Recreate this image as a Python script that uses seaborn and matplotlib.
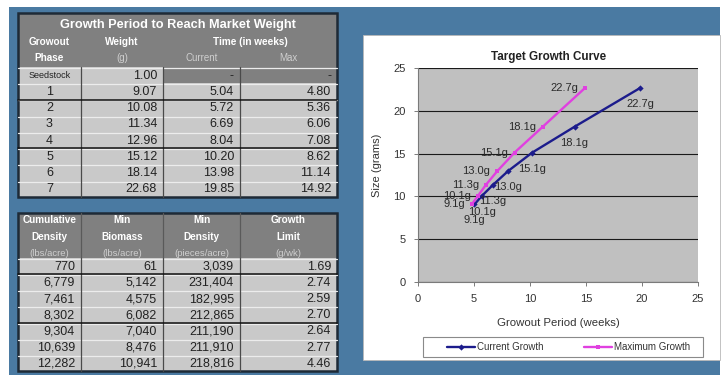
import matplotlib
matplotlib.use("Agg")
import matplotlib.pyplot as plt
from matplotlib.patches import Rectangle
import numpy as np
import pandas as pd
import seaborn as sns

# ---- data -------------------------------------------------------------
phases = ["Seedstock", "1", "2", "3", "4", "5", "6", "7"]
weight_g = [1.00, 9.07, 10.08, 11.34, 12.96, 15.12, 18.14, 22.68]
weeks_current = [None, 5.04, 5.72, 6.69, 8.04, 10.20, 13.98, 19.85]
weeks_max = [None, 4.80, 5.36, 6.06, 7.08, 8.62, 11.14, 14.92]

cum_density = [770, 6779, 7461, 8302, 9304, 10639, 12282]
min_biomass = [61, 5142, 4575, 6082, 7040, 8476, 10941]
min_density = [3039, 231404, 182995, 212865, 211190, 211910, 218816]
growth_limit = [1.69, 2.74, 2.59, 2.70, 2.64, 2.77, 4.46]

series_names = ["Current Growth", "Maximum Growth"]
series_colors = {"Current Growth": "#1c1c8c", "Maximum Growth": "#e040e0"}

# ---- figure -----------------------------------------------------------
sns.set_theme(style="white")
plt.rcParams["font.family"] = ["Liberation Sans", "DejaVu Sans"]

W, H = 723, 375
fig = plt.figure(figsize=(W / 100, H / 100), dpi=100, facecolor="white")
bg = fig.add_axes([0, 0, 1, 1])
bg.set_xlim(0, W)
bg.set_ylim(H, 0)
bg.axis("off")

BLUE = "#4a7aa2"
HEAD = "#808080"
CELL = "#c9c9c9"
DARK = "#1e2a36"
TXT = "#222222"
UNIT = "#cfcfcf"

bg.add_patch(Rectangle((9, 7), 711, H - 7, facecolor=BLUE, edgecolor="none"))

cols = [18, 81, 163, 240, 337]


def draw_rows(top, row_h, rows, dark_after, shaded=None):
    shaded = shaded or set()
    for r, row in enumerate(rows):
        y = top + r * row_h
        for c, (txt, align) in enumerate(row):
            x0, x1 = cols[c], cols[c + 1]
            fc = HEAD if (r, c) in shaded else CELL
            bg.add_patch(Rectangle((x0, y), x1 - x0, row_h, facecolor=fc,
                                   edgecolor="none"))
            bg.plot([x0, x1], [y + 0.8, y + 0.8], color="#ececec", lw=0.9)
            if align == "center":
                tx, ha = (x0 + x1) / 2, "center"
            else:
                tx, ha = x1 - 6, "right"
            size = 6.5 if txt == "Seedstock" else 9
            bg.text(tx, y + row_h / 2 + 0.5, txt, ha=ha, va="center",
                    fontsize=size, color=TXT)
    bottom = top + len(rows) * row_h
    for x in cols[1:-1]:
        bg.plot([x, x], [top, bottom], color="#4a4a4a", lw=0.9)
    for r in dark_after:
        y = top + r * row_h
        bg.plot([cols[0], cols[-1]], [y, y], color="#101010", lw=1.1)
    return bottom


# ---- upper table: growth period --------------------------------------
t_top, t_head = 13, 67
bg.add_patch(Rectangle((cols[0], t_top), cols[-1] - cols[0], t_head - t_top,
                       facecolor=HEAD, edgecolor="none"))
bg.text((cols[0] + cols[-1]) / 2, 25, "Growth Period to Reach Market Weight",
        ha="center", va="center", fontsize=9.2, fontweight="bold", color="white")
cx = [(cols[i] + cols[i + 1]) / 2 for i in range(4)]
bg.text(cx[0], 42, "Growout", ha="center", va="center", fontsize=7.2,
        fontweight="bold", color="white")
bg.text(cx[1], 42, "Weight", ha="center", va="center", fontsize=7.2,
        fontweight="bold", color="white")
bg.text((cols[2] + cols[4]) / 2, 42, "Time (in weeks)", ha="center",
        va="center", fontsize=7.2, fontweight="bold", color="white")
bg.text(cx[0], 58, "Phase", ha="center", va="center", fontsize=7.2,
        fontweight="bold", color="white")
bg.text(cx[1], 58, "(g)", ha="center", va="center", fontsize=7, color=UNIT)
bg.text(cx[2], 58, "Current", ha="center", va="center", fontsize=7, color=UNIT)
bg.text(cx[3], 58, "Max", ha="center", va="center", fontsize=7, color=UNIT)

rows_top = []
for p, w, c, m in zip(phases, weight_g, weeks_current, weeks_max):
    rows_top.append([
        (p, "center"),
        (f"{w:.2f}", "right"),
        ("-" if c is None else f"{c:.2f}", "right"),
        ("-" if m is None else f"{m:.2f}", "right"),
    ])
shade = {(0, 2), (0, 3)}
b1 = draw_rows(t_head, 16.25, rows_top, dark_after=[2, 5], shaded=shade)
bg.add_patch(Rectangle((cols[0], t_top), cols[-1] - cols[0], b1 - t_top,
                       facecolor="none", edgecolor=DARK, lw=1.8))

# ---- lower table: densities ------------------------------------------
l_top, l_head = 213, 258
bg.add_patch(Rectangle((cols[0], l_top), cols[-1] - cols[0], l_head - l_top,
                       facecolor=HEAD, edgecolor="none"))
for x in cols[1:-1]:
    bg.plot([x, x], [l_top, l_head], color="#5a5a5a", lw=0.9)
heads = [("Cumulative", "Density", "(lbs/acre)"),
         ("Min", "Biomass", "(lbs/acre)"),
         ("Min", "Density", "(pieces/acre)"),
         ("Growth", "Limit", "(g/wk)")]
for i, (a, b, u) in enumerate(heads):
    bg.text(cx[i], 220, a, ha="center", va="center", fontsize=7.2,
            fontweight="bold", color="white")
    bg.text(cx[i], 237, b, ha="center", va="center", fontsize=7.2,
            fontweight="bold", color="white")
    bg.text(cx[i], 253, u, ha="center", va="center", fontsize=6.8, color=UNIT)

rows_low = []
for a, b, c, d in zip(cum_density, min_biomass, min_density, growth_limit):
    rows_low.append([(f"{a:,}", "right"), (f"{b:,}", "right"),
                     (f"{c:,}", "right"), (f"{d:.2f}", "right")])
b2 = draw_rows(l_head, 16.2, rows_low, dark_after=[1, 4])
bg.add_patch(Rectangle((cols[0], l_top), cols[-1] - cols[0], b2 - l_top,
                       facecolor="none", edgecolor=DARK, lw=1.8))

# ---- chart panel --------------------------------------------------------
bg.add_patch(Rectangle((363, 35), 357, 325, facecolor="white",
                       edgecolor="#b8b8b8", lw=0.6))

records = []
for name, xs in zip(series_names, [weeks_current, weeks_max]):
    for x, y in zip(xs, weight_g):
        if x is not None:
            records.append({"weeks": x, "size": y, "series": name})
df = pd.DataFrame(records)

ax = fig.add_axes([418 / W, (H - 282) / H, 280 / W, 214 / H])
ax.set_facecolor("#c0c0c0")
sns.lineplot(data=df, x="weeks", y="size", hue="series", style="series",
             palette=series_colors, markers={"Current Growth": "D",
                                             "Maximum Growth": "s"},
             dashes=False, sort=False, lw=1.7, markersize=3.2,
             markeredgewidth=0, ax=ax)

ax.set_xlim(0, 25)
ax.set_ylim(0, 25)
ax.set_xticks(np.arange(0, 26, 5))
ax.set_yticks(np.arange(0, 26, 5))
ax.grid(axis="y", color="#1a1a1a", lw=0.8)
ax.grid(axis="x", visible=False)
ax.set_axisbelow(True)
for s in ["top", "right"]:
    ax.spines[s].set_visible(False)
for s in ["left", "bottom"]:
    ax.spines[s].set_color("#7a7a7a")
    ax.spines[s].set_linewidth(0.8)
ax.tick_params(axis="both", which="major", length=3, width=0.7,
               color="#7a7a7a", labelsize=8, labelcolor="#333333", pad=6,
               bottom=True, left=True)

ax.set_xlabel("Growout Period (weeks)", fontsize=8.2, color="#333333")
ax.set_ylabel("Size (grams)", fontsize=8, color="#333333")
ax.xaxis.set_label_coords(0.5, -0.168)
ax.yaxis.set_label_coords(-0.129, 0.547)

fig.text(549 / W, 1 - 57 / H, "Target Growth Curve", ha="center",
         va="center", fontsize=8.4, fontweight="bold", color="#222222")

# value labels: current series below points, maximum series to the left
for x, y in zip(weeks_current, weight_g):
    if x is not None:
        ax.annotate(f"{y:.1f}g", (x, y), xytext=(0, -16),
                    textcoords="offset pixels", ha="center", va="center",
                    fontsize=8, color="#2a2a2a")
for x, y in zip(weeks_max, weight_g):
    if x is not None:
        ax.annotate(f"{y:.1f}g", (x, y), xytext=(-7, 0),
                    textcoords="offset pixels", ha="right", va="center",
                    fontsize=8, color="#2a2a2a")

# legend box under the plot
bg.add_patch(Rectangle((423, 337), 280, 20, facecolor="white",
                       edgecolor="#8a8a8a", lw=0.8))
handles, labels = ax.get_legend_handles_labels()
ax.legend(handles, labels, loc="center left",
          bbox_to_anchor=(442 / W, 1 - 347 / H),
          bbox_transform=fig.transFigure, ncol=2, frameon=False, fontsize=7,
          handlelength=2.9, handletextpad=0.15, columnspacing=4.2,
          borderpad=0, labelcolor="#333333")

fig.savefig("out.png", dpi=100, facecolor="white")
